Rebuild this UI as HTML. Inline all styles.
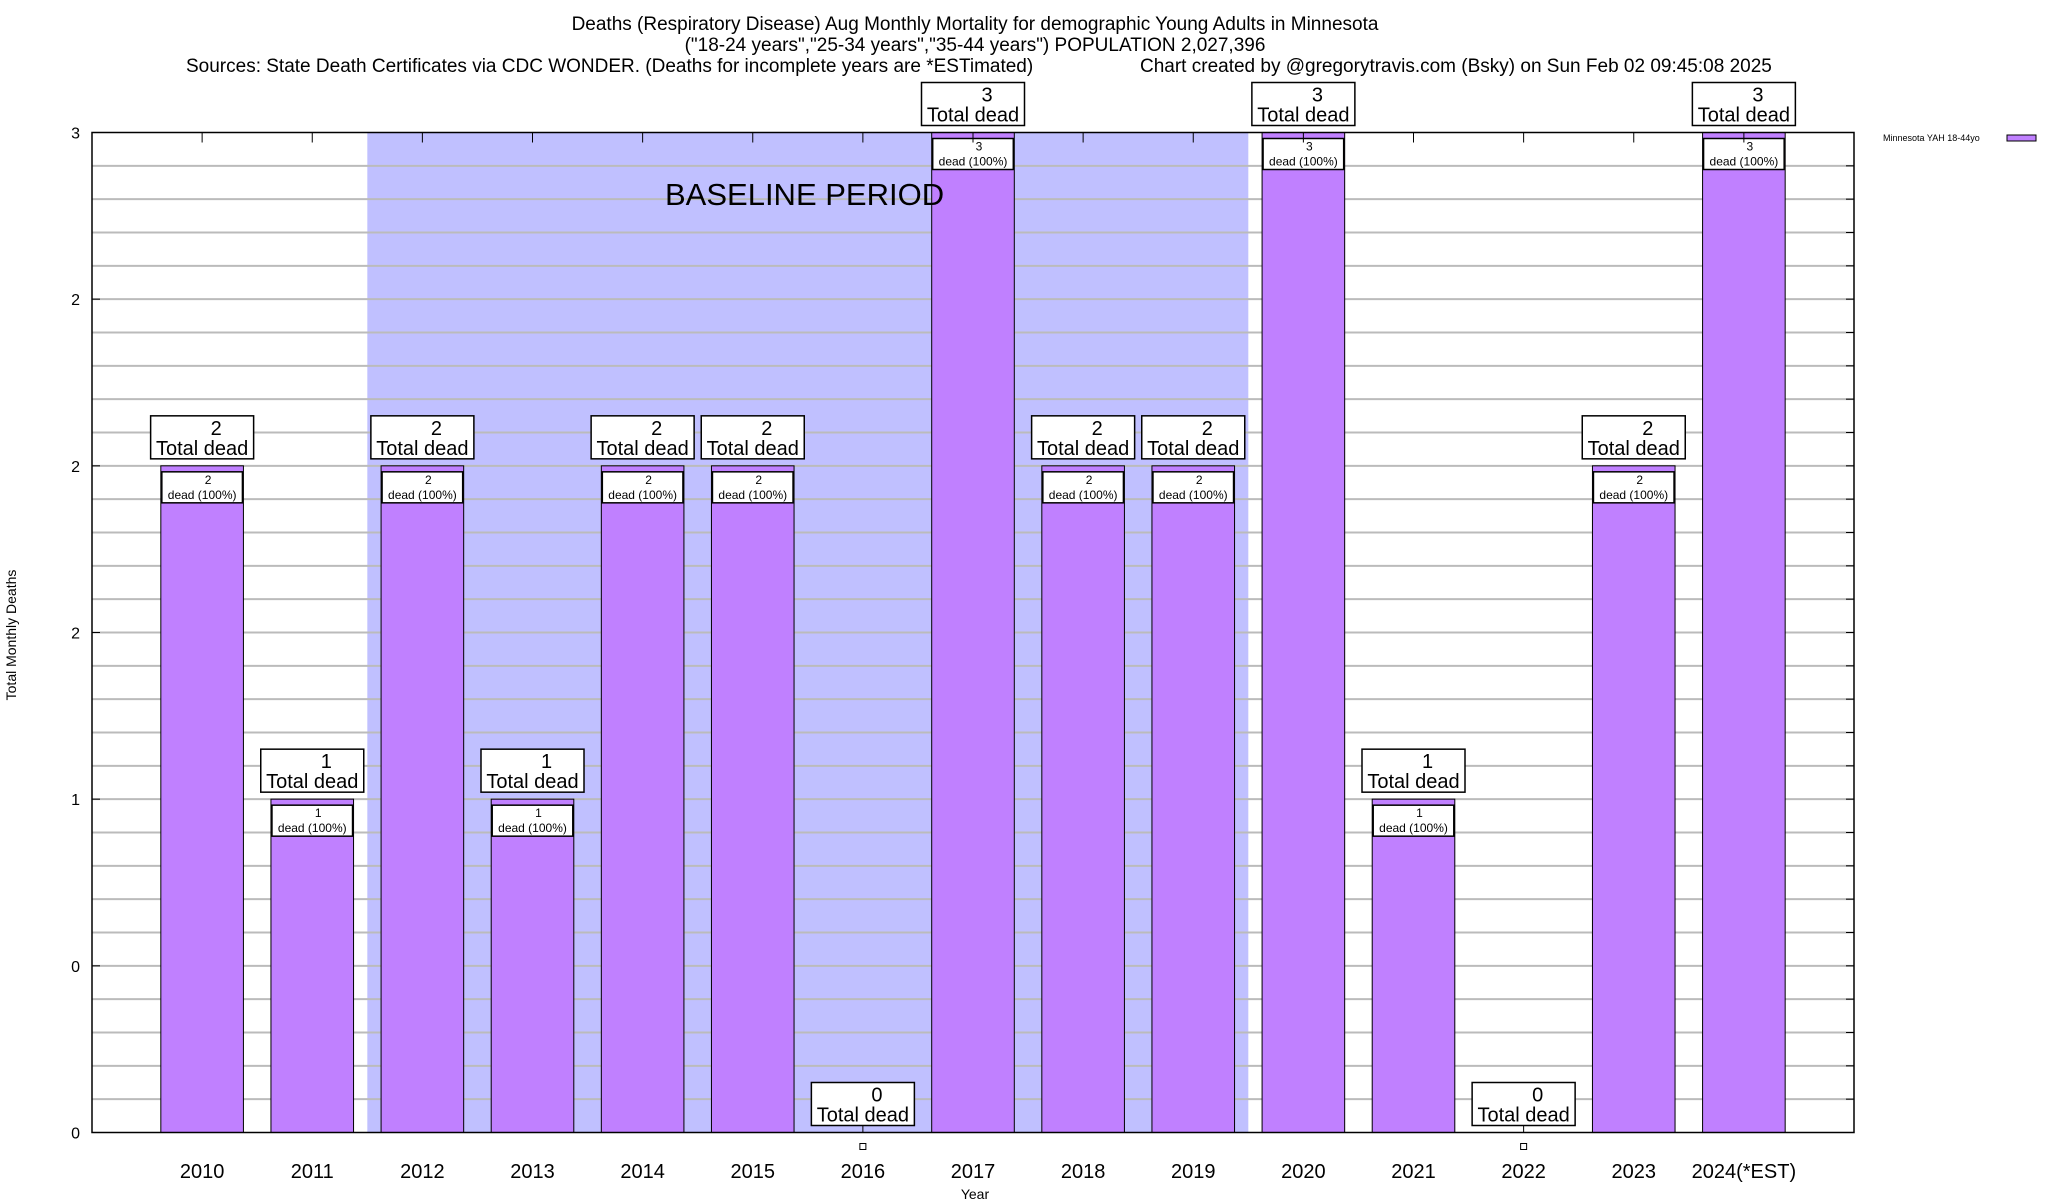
<!DOCTYPE html>
<html><head><meta charset="utf-8"><style>
html,body{margin:0;padding:0;background:#fff}
svg{display:block;font-family:"Liberation Sans",sans-serif}
</style></head><body>
<svg id="chart" width="2048" height="1200" viewBox="0 0 2048 1200" xmlns="http://www.w3.org/2000/svg">
<g font-size="19" fill="#000">
<text x="975" y="30" text-anchor="middle">Deaths (Respiratory Disease) Aug Monthly Mortality for demographic Young Adults in Minnesota</text>
<text x="975" y="51" text-anchor="middle">("18-24 years","25-34 years","35-44 years") POPULATION 2,027,396</text>
<text x="186" y="72">Sources: State Death Certificates via CDC WONDER. (Deaths for incomplete years are *ESTimated)</text>
<text x="1140" y="72">Chart created by @gregorytravis.com (Bsky) on Sun Feb 02 09:45:08 2025</text>
</g>
<g id="bg"></g>
<g id="grid"></g>
<g id="bars"></g>
<g id="axes"></g>
<g id="top"></g>
<text x="16" y="635" font-size="14" text-anchor="middle" transform="rotate(-90 16 635)">Total Monthly Deaths</text>
<text x="975" y="1199" font-size="14" text-anchor="middle">Year</text>
<g>
<text x="1883" y="141" font-size="9">Minnesota YAH 18-44yo</text>
<rect x="2007" y="135" width="29" height="6" fill="#c080ff" stroke="#000" stroke-width="1"/>
</g>
</svg>
<script>
const categories=["2010","2011","2012","2013","2014","2015","2016","2017","2018","2019","2020","2021","2022","2023","2024(*EST)"];
const deaths=[2,1,2,1,2,2,0,3,2,2,3,1,0,2,3];
const yTickValues=[0,0.5,1,1.5,2,2.5,3];
const yTickLabels=["0","0","1","2","2","2","3"];
const baselineRange=[1.5,9.5];
const NS="http://www.w3.org/2000/svg";
const L=92,R=1854,T=132.5,B=1132.5,XMIN=-1,XMAX=15,YMIN=0,YMAX=3;
const xs=v=>L+(v-XMIN)/(XMAX-XMIN)*(R-L);
const ys=v=>B-(v-YMIN)/(YMAX-YMIN)*(B-T);
function mk(tag,attrs,parent,txt){const e=document.createElementNS(NS,tag);for(const k in attrs)e.setAttribute(k,attrs[k]);if(txt!==undefined)e.textContent=txt;parent.appendChild(e);return e;}
const bg=document.getElementById('bg'),grid=document.getElementById('grid'),bars=document.getElementById('bars'),axes=document.getElementById('axes'),topL=document.getElementById('top');
let e=mk('rect',{x:xs(baselineRange[0]),y:T,width:xs(baselineRange[1])-xs(baselineRange[0]),height:B-T,fill:'#c0c0ff'},bg);


e=mk('text',{x:665,y:205,'font-size':31},topL,'BASELINE PERIOD');


for(let i=1;i<30;i++){const y=ys(i*0.1);
e=mk('line',{x1:L,x2:R,y1:y,y2:y,stroke:'#bbb','stroke-width':2},grid);


mk('line',{x1:R-8,x2:R,y1:y,y2:y,stroke:'#000','stroke-width':1},axes);}
yTickValues.forEach((v,i)=>{const y=ys(v);
e=mk('text',{x:80,y:y+6,'font-size':16,'text-anchor':'end'},axes,yTickLabels[i]);


mk('line',{x1:L,x2:L+8,y1:y,y2:y,stroke:'#000'},axes);});
categories.forEach((c,i)=>{const cx=xs(i),v=deaths[i],w=82.6;
mk('line',{x1:cx,x2:cx,y1:T,y2:T+10,stroke:'#000'},axes);
e=mk('text',{x:cx,y:1178,'font-size':20,'text-anchor':'middle'},axes,c);


const top=ys(v);
if(v>0){
e=mk('rect',{x:cx-w/2,y:top,width:w,height:B-top,fill:'#c080ff',stroke:'#000','stroke-width':1},bars);


const ib=mk('g',{},bars);


mk('rect',{x:cx-w/2+1,y:top+6,width:w-2,height:31,fill:'#fff',stroke:'#000','stroke-width':1.5},ib);
mk('text',{x:cx+6,y:top+18,'font-size':12,'text-anchor':'middle'},ib,String(v));
mk('text',{x:cx,y:top+33,'font-size':12,'text-anchor':'middle'},ib,'dead (100%)');
}else{
mk('line',{x1:cx,x2:cx,y1:B-7,y2:B,stroke:'#000'},bars);
e=mk('rect',{x:cx-3,y:B+11,width:6,height:6,fill:'#fff',stroke:'#000'},bars);


}
const bt=(v>0?top-50:B-50);
const g=mk('g',{},bars);


mk('rect',{x:cx-51.5,y:bt,width:103,height:43,fill:'#fff',stroke:'#000','stroke-width':1.5},g);
mk('text',{x:cx+14,y:bt+19,'font-size':20,'text-anchor':'middle'},g,String(v));
mk('text',{x:cx,y:bt+39,'font-size':20,'text-anchor':'middle'},g,'Total dead');
});
e=mk('rect',{x:L,y:T,width:R-L,height:B-T,fill:'none',stroke:'#000','stroke-width':1.5},axes);


</script>
</body></html>
